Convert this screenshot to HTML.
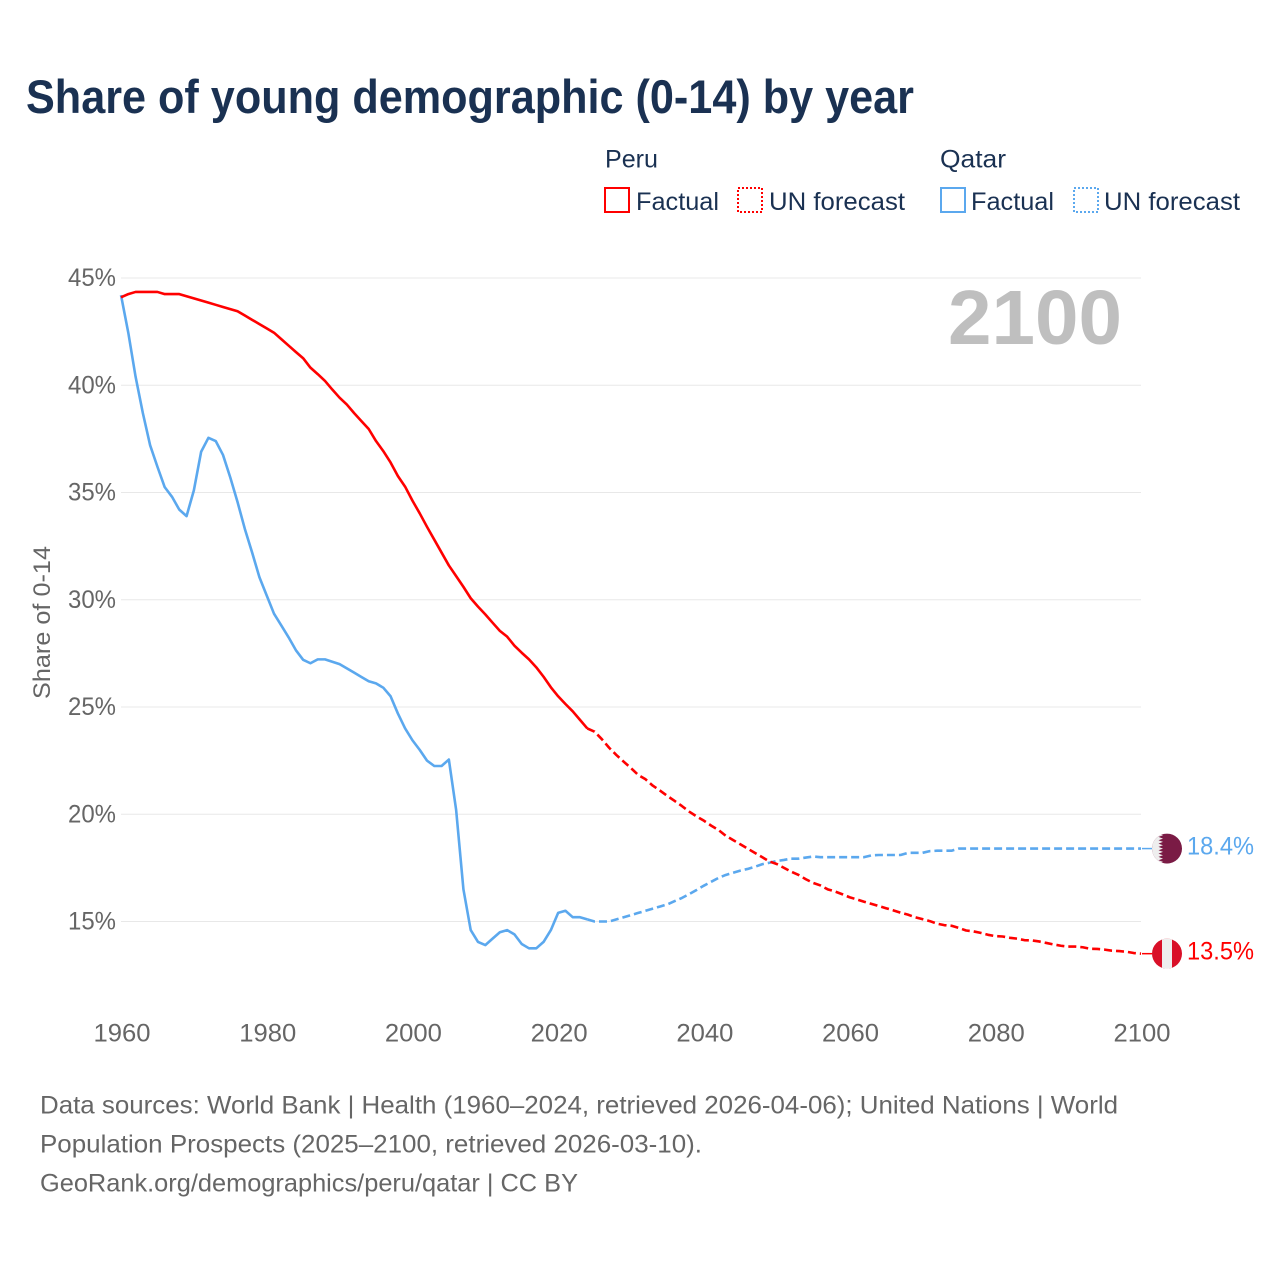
<!DOCTYPE html>
<html lang="en">
<head>
<meta charset="utf-8">
<title>Share of young demographic (0-14) by year</title>
<style>
html,body{margin:0;padding:0;background:#fff}
svg{display:block;font-family:"Liberation Sans",Arial,sans-serif}
</style>
</head>
<body>
<svg id="chart" width="1280" height="1280" viewBox="0 0 1280 1280">
  <defs>
    <clipPath id="flag-clip-qatar"><circle id="clip-q" cx="1167" cy="848" r="15"></circle></clipPath>
    <clipPath id="flag-clip-peru"><circle id="clip-p" cx="1167" cy="953" r="15"></circle></clipPath>
  </defs>
  <rect x="0" y="0" width="1280" height="1280" fill="#ffffff"></rect>
  <text x="26" y="113" font-size="47" font-weight="bold" fill="#1a3152" textLength="888" lengthAdjust="spacingAndGlyphs">Share of young demographic (0-14) by year</text>

  <g font-size="25" fill="#1a3152">
    <text x="605" y="167.500" textLength="53" lengthAdjust="spacingAndGlyphs">Peru</text>
    <text x="940" y="167.500" textLength="66" lengthAdjust="spacingAndGlyphs">Qatar</text>
    <rect x="605" y="188" width="24" height="24" fill="none" stroke="#ff0000" stroke-width="2"></rect>
    <text x="636" y="210" textLength="83" lengthAdjust="spacingAndGlyphs">Factual</text>
    <rect x="738" y="188" width="24" height="24" fill="none" stroke="#ff0000" stroke-width="2" stroke-dasharray="2 2"></rect>
    <text x="769" y="210" textLength="136" lengthAdjust="spacingAndGlyphs">UN forecast</text>
    <rect x="941" y="188" width="24" height="24" fill="none" stroke="#5ba8ee" stroke-width="2"></rect>
    <text x="971" y="210" textLength="83" lengthAdjust="spacingAndGlyphs">Factual</text>
    <rect x="1074" y="188" width="24" height="24" fill="none" stroke="#5ba8ee" stroke-width="2" stroke-dasharray="2 2"></rect>
    <text x="1104" y="210" textLength="136" lengthAdjust="spacingAndGlyphs">UN forecast</text>
  </g>

  <g id="grid"></g>
  <g id="y-axis"></g>
  <g id="x-axis"></g>
  <text transform="translate(50 622.500) rotate(-90)" text-anchor="middle" font-size="24" fill="#666666" textLength="153" lengthAdjust="spacingAndGlyphs">Share of 0-14</text>
  <text x="948" y="344" font-size="77" font-weight="bold" fill="#bfbfbf" textLength="174" lengthAdjust="spacingAndGlyphs">2100</text>

  <g id="series"></g>

  <g id="flag-qatar">
    <g clip-path="url(#flag-clip-qatar)">
      <rect id="q-bg" x="1152" y="833" width="30" height="30" fill="#7a1b45"></rect>
      <path id="q-white" fill="#eeeeee" d=""></path>
    </g>
  </g>
  <g id="flag-peru">
    <g clip-path="url(#flag-clip-peru)">
      <rect id="p-bg" x="1152" y="938" width="30" height="30" fill="#d91028"></rect>
      <rect id="p-mid" x="1162" y="938" width="10" height="30" fill="#eeeeee"></rect>
    </g>
  </g>
  <text id="label-qatar" x="1187" y="854" font-size="25" fill="#5ba8ee" textLength="67" lengthAdjust="spacingAndGlyphs">18.4%</text>
  <text id="label-peru" x="1187" y="959" font-size="25" fill="#ff0000" textLength="67" lengthAdjust="spacingAndGlyphs">13.5%</text>

  <g font-size="25" fill="#666666">
    <text x="40" y="1113.500" textLength="1078" lengthAdjust="spacingAndGlyphs">Data sources: World Bank | Health (1960–2024, retrieved 2026-04-06); United Nations | World</text>
    <text x="40" y="1152.500" textLength="662" lengthAdjust="spacingAndGlyphs">Population Prospects (2025–2100, retrieved 2026-03-10).</text>
    <text x="40" y="1191.500" textLength="538" lengthAdjust="spacingAndGlyphs">GeoRank.org/demographics/peru/qatar | CC BY</text>
  </g>
</svg>
<script>
const firstYear = 1960;
const forecastFirstYear = 2024;
const yTicks = [45, 40, 35, 30, 25, 20, 15];
const xTicks = [1960, 1980, 2000, 2020, 2040, 2060, 2080, 2100];
const peruFactual = [
  44.1,44.25,44.35,44.35,44.35,44.35,44.25,44.25,44.25,44.15,
  44.05,43.95,43.85,43.75,43.65,43.55,43.45,43.25,43.05,42.85,
  42.65,42.45,42.15,41.85,41.55,41.26,40.82,40.52,40.2,39.8,
  39.42,39.1,38.7,38.33,37.96,37.4,36.93,36.4,35.77,35.27,
  34.62,34.03,33.4,32.8,32.2,31.6,31.1,30.6,30.07,29.68,
  29.32,28.93,28.55,28.28,27.86,27.53,27.22,26.85,26.41,25.92,
  25.5,25.14,24.8,24.4,24.0];
const peruForecast = [
  24.0,
  23.85,23.5,23.1,22.76,22.45,
  22.15,21.83,21.63,21.33,21.1,20.85,20.62,20.38,20.12,19.9,
  19.7,19.47,19.27,19.0,18.8,18.6,18.4,18.2,18.0,17.8,
  17.68,17.5,17.32,17.17,16.97,16.8,16.68,16.5,16.4,16.27,
  16.13,16.03,15.92,15.82,15.72,15.62,15.52,15.41,15.32,15.2,
  15.11,15.02,14.9,14.83,14.8,14.7,14.58,14.54,14.47,14.38,
  14.32,14.3,14.24,14.2,14.13,14.12,14.07,14.0,13.93,13.87,
  13.83,13.83,13.8,13.73,13.72,13.69,13.64,13.62,13.59,13.53,
  13.5];
const qatarFactual = [
  44.2,42.45,40.4,38.7,37.2,36.2,35.25,34.8,34.2,33.9,
  35.1,36.9,37.55,37.4,36.75,35.7,34.55,33.3,32.2,31.05,
  30.2,29.35,28.8,28.25,27.65,27.2,27.04,27.22,27.22,27.11,
  27.0,26.8,26.6,26.4,26.2,26.1,25.9,25.5,24.7,24.0,
  23.45,23.0,22.5,22.25,22.25,22.55,20.2,16.5,14.6,14.05,
  13.9,14.2,14.5,14.6,14.4,13.95,13.75,13.75,14.05,14.6,
  15.4,15.5,15.2,15.2,15.1];
const qatarForecast = [
  15.1,
  15.0,15.0,15.0,15.1,15.2,
  15.3,15.4,15.5,15.6,15.7,15.8,15.95,16.1,16.28,16.47,
  16.67,16.85,17.03,17.17,17.27,17.37,17.45,17.55,17.67,17.74,
  17.82,17.87,17.93,17.93,17.98,18.03,18.0,18.0,18.0,18.0,
  18.0,18.0,18.0,18.08,18.1,18.1,18.1,18.1,18.2,18.2,
  18.2,18.28,18.3,18.3,18.3,18.4,18.4,18.4,18.4,18.4,
  18.4,18.4,18.4,18.4,18.4,18.4,18.4,18.4,18.4,18.4,
  18.4,18.4,18.4,18.4,18.4,18.4,18.4,18.4,18.4,18.4,
  18.4];

const NS = 'http://www.w3.org/2000/svg';
const xScale = function (year) { return 121 + (year - 1960) * (1020 / 140); };
const yScale = function (v) { return 278 + (45 - v) * (643.5 / 30); };
const linePath = function (start, values) {
  return values.map(function (v, i) {
    return (i ? 'L' : 'M') + xScale(start + i).toFixed(2) + ' ' + yScale(v).toFixed(2);
  }).join(' ');
};

const gridGroup = document.getElementById('grid');
const yGroup = document.getElementById('y-axis');
yTicks.forEach(function (t) {
  const line = document.createElementNS(NS, 'line');
  
  
  line.setAttribute('x1', xScale(1960));
  line.setAttribute('x2', xScale(2100));
  line.setAttribute('y1', yScale(t));
  line.setAttribute('y2', yScale(t));
  line.setAttribute('stroke', '#e8e8e8');
  line.setAttribute('stroke-width', '1');
  gridGroup.appendChild(line);
  const label = document.createElementNS(NS, 'text');
  
  
  label.setAttribute('x', 68);
  label.setAttribute('y', yScale(t) + 8);
  label.setAttribute('font-size', '25');
  label.setAttribute('fill', '#666666');
  label.setAttribute('textLength', '48');
  label.setAttribute('lengthAdjust', 'spacingAndGlyphs');
  label.textContent = t + '%';
  yGroup.appendChild(label);
});

const xGroup = document.getElementById('x-axis');
xTicks.forEach(function (t) {
  const label = document.createElementNS(NS, 'text');
  
  
  label.setAttribute('x', xScale(t) - 27.5);
  label.setAttribute('y', 1041.5);
  label.setAttribute('font-size', '25');
  label.setAttribute('fill', '#666666');
  label.setAttribute('textLength', '57');
  label.setAttribute('lengthAdjust', 'spacingAndGlyphs');
  label.textContent = t;
  xGroup.appendChild(label);
});

const seriesGroup = document.getElementById('series');
const addLine = function (d, color, dashed, name) {
  const p = document.createElementNS(NS, 'path');
  
  
  p.setAttribute('d', d);
  p.setAttribute('fill', 'none');
  p.setAttribute('stroke', color);
  p.setAttribute('stroke-width', '2.600');
  p.setAttribute('stroke-linejoin', 'round');
  if (dashed) p.setAttribute('stroke-dasharray', '8 4');
  seriesGroup.appendChild(p);
};
addLine(linePath(firstYear, qatarFactual), '#5ba8ee', false, 'qatar-factual-line');
addLine(linePath(forecastFirstYear, qatarForecast), '#5ba8ee', true, 'qatar-forecast-line');
addLine(linePath(firstYear, peruFactual), '#ff0000', false, 'peru-factual-line');
addLine(linePath(forecastFirstYear, peruForecast), '#ff0000', true, 'peru-forecast-line');

const endQ = qatarForecast[qatarForecast.length - 1];
const endP = peruForecast[peruForecast.length - 1];
const connect = function (v, color, name) {
  const l = document.createElementNS(NS, 'line');
  
  
  l.setAttribute('x1', xScale(2100) + 1);
  l.setAttribute('x2', 1152);
  l.setAttribute('y1', yScale(v));
  l.setAttribute('y2', yScale(v));
  l.setAttribute('stroke', color);
  l.setAttribute('stroke-width', '1.500');
  seriesGroup.appendChild(l);
};
connect(endQ, '#5ba8ee', 'qatar-end-connector');
connect(endP, '#ff0000', 'peru-end-connector');

const qy = yScale(endQ);
const py = yScale(endP);
document.getElementById('clip-q').setAttribute('cy', qy);
document.getElementById('clip-p').setAttribute('cy', py);
document.getElementById('q-bg').setAttribute('y', qy - 15);
document.getElementById('p-bg').setAttribute('y', py - 15);
document.getElementById('p-mid').setAttribute('y', py - 15);
let serr = 'M1150 ' + (qy - 16);
for (let i = 0; i < 9; i++) {
  const top = qy - 15 + i * 30 / 9;
  serr += ' L1158.5 ' + top.toFixed(2) + ' L1163 ' + (top + 15 / 9).toFixed(2);
}
serr += ' L1158.5 ' + (qy + 15) + ' L1150 ' + (qy + 16) + ' Z';
document.getElementById('q-white').setAttribute('d', serr);
document.getElementById('label-qatar').setAttribute('y', qy + 6);
document.getElementById('label-peru').setAttribute('y', py + 6);
</script>
</body>
</html>
